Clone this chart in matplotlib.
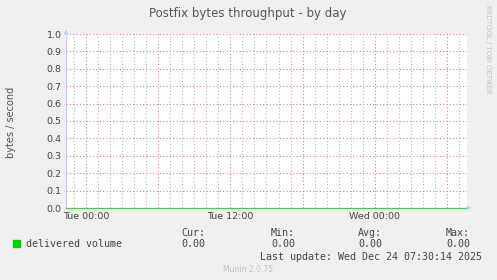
import numpy as np
import matplotlib.pyplot as plt

# hours relative to Tue 00:00, 5 min per pixel, 400 px wide
hours = np.arange(-20, 381) * 5 / 60.0
delivered = np.zeros(len(hours))  # bytes / second, flat at zero

x_ticks = [0, 12, 24]
x_labels = ['Tue 00:00', 'Tue 12:00', 'Wed 00:00']
y_ticks = [0.0, 0.1, 0.2, 0.3, 0.4, 0.5, 0.6, 0.7, 0.8, 0.9, 1.0]

stat_names = ['Cur:', 'Min:', 'Avg:', 'Max:']
stat_values = ['0.00', '0.00', '0.00', '0.00']
stat_x = [193, 283, 370, 458]

W, H = 497, 280
fig = plt.figure(figsize=(W / 100, H / 100), dpi=100, facecolor='#f0f0f0')
ax = fig.add_axes([66 / W, 1 - 208 / H, 401 / W, 174 / H])
ax.set_facecolor('white')

xmin, xmax = hours[0], hours[-1]
ax.set_xlim(xmin, xmax)
ax.set_ylim(0, 1.0)

# minor grid (hourly) and major grid (6h), dotted
dot = (0, (1, 2))
for h in np.arange(np.ceil(xmin), xmax + 0.01, 1):
    if h % 6 == 0:
        ax.axvline(h, color='#dd8080', lw=0.8, ls=dot, zorder=1)
    else:
        ax.axvline(h, color='#b8b8b8', lw=0.8, ls=dot, zorder=1)
for y in y_ticks[1:]:
    ax.axhline(y, color='#dd8080', lw=0.8, ls=dot, zorder=1)

ax.plot(hours, delivered, color='#44cc44', lw=0.9, zorder=3, clip_on=False)

for s in ax.spines.values():
    s.set_visible(False)
ax.axvline(xmin, color='#c8c8f0', lw=0.8, zorder=2)
ax.annotate('', xy=(66, H - 27), xytext=(66, H - 35), xycoords='figure pixels',
            arrowprops=dict(arrowstyle='-|>', color='#c8c8f0', lw=0.6, mutation_scale=6))
ax.annotate('', xy=(474, H - 208), xytext=(466, H - 208), xycoords='figure pixels',
            arrowprops=dict(arrowstyle='-|>', color='#c8c8f0', lw=0.6, mutation_scale=6))

ax.set_xticks(x_ticks)
ax.set_xticklabels(x_labels)
ax.set_yticks(y_ticks)
ax.set_yticklabels(['%.1f' % v for v in y_ticks])
ax.tick_params(length=0, labelsize=6.8, colors='#444444', pad=3)

fig.text(248 / W, 1 - 13 / H, 'Postfix bytes throughput - by day', ha='center', va='center',
         fontsize=8.5, color='#555555')
fig.text(11 / W, 1 - 122 / H, 'bytes / second', rotation=90, ha='center', va='center',
         fontsize=7, color='#555555')
fig.text(488 / W, 1 - 5 / H, 'RRDTOOL / TOBI OETIKER', rotation=270, ha='center', va='top',
         fontsize=5, color='#c0c0c0')

mono = 'DejaVu Sans Mono'
fig.patches.append(plt.Rectangle((13 / W, 1 - 247 / H), 7 / W, 7 / H, color='#00cc00',
                                 transform=fig.transFigure, figure=fig))
fig.text(26 / W, 1 - 244 / H, 'delivered volume', ha='left', va='center',
         family=mono, fontsize=7.2, color='#444444')
for name, val, sx in zip(stat_names, stat_values, stat_x):
    fig.text(sx / W, 1 - 233 / H, name, ha='center', va='center', family=mono,
             fontsize=7.2, color='#444444')
    fig.text(sx / W, 1 - 244 / H, val, ha='center', va='center', family=mono,
             fontsize=7.2, color='#444444')
fig.text(482 / W, 1 - 257 / H, 'Last update: Wed Dec 24 07:30:14 2025', ha='right',
         va='center', family=mono, fontsize=7.2, color='#444444')
fig.text(248 / W, 1 - 269 / H, 'Munin 2.0.75', ha='center', va='center',
         fontsize=5.5, color='#c0c0c0')

fig.savefig('out.png', dpi=100, facecolor=fig.get_facecolor())
